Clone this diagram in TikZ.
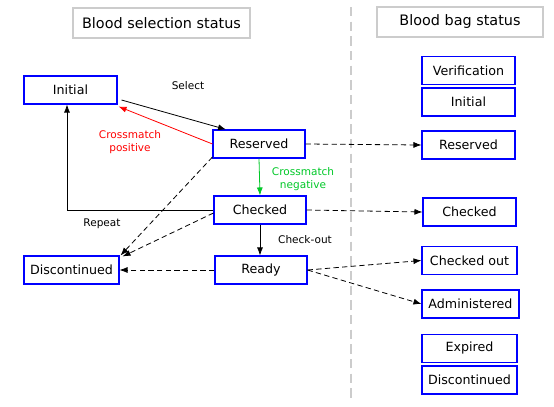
\documentclass[tikz,border=0pt]{standalone}
\usepackage{fontspec}
\setmainfont{DejaVu Sans}
\usetikzlibrary{arrows.meta}
\definecolor{cmgreen}{RGB}{0,200,40}
\begin{document}
\begin{tikzpicture}[x=0.75pt,y=-0.75pt,
  state/.style={draw=blue,line width=0.8pt,minimum height=28*0.75pt,inner sep=0pt,font=\fontsize{9.5}{11}\selectfont},
  title/.style={draw=black!20,line width=0.8pt,minimum height=30*0.75pt,inner sep=0pt,font=\fontsize{10.8}{13}\selectfont},
  lbl/.style={font=\fontsize{7.9}{9.5}\selectfont,align=center},
  arr/.style={-{Latex[length=6pt,width=4.5pt]},line width=0.6pt},
  dsh/.style={arr,dash pattern=on 4pt off 2.5pt}]
\useasboundingbox[fill=white] (0,0) rectangle (554,407);
% titles
\node[title,minimum width=177*0.75pt] (t1) at (161.5,23) {Blood selection status};
\node[title,minimum width=166*0.75pt] (t2) at (460,22) {Blood bag status};
\coordinate (vt) at (351,7);
\coordinate (vb) at (351,400);
\draw[black!20,line width=0.8pt,dash pattern=on 7pt off 4pt] (vt) -- (vb);
% left states
\node[state,minimum width=93*0.75pt] (ini) at (70.5,90) {Initial};
\node[state,minimum width=92*0.75pt] (res) at (259,144) {Reserved};
\node[state,minimum width=92*0.75pt] (chk) at (260,210) {Checked};
\node[state,minimum width=95*0.75pt] (dis) at (71.5,270) {Discontinued};
\node[state,minimum width=92*0.75pt] (rdy) at (261,270) {Ready};
% right states
\node[state,minimum width=93*0.75pt] (bver) at (468.5,70.5) {Verification};
\node[state,minimum width=93*0.75pt] (bini) at (468.5,102) {Initial};
\node[state,minimum width=93*0.75pt] (bres) at (468.5,145) {Reserved};
\node[state,minimum width=93*0.75pt] (bchk) at (469.5,212) {Checked};
\node[state,minimum width=95*0.75pt] (bout) at (469.5,260.5) {Checked out};
\node[state,minimum width=97*0.75pt] (badm) at (470.5,304) {Administered};
\node[state,minimum width=95*0.75pt] (bexp) at (469.5,348.5) {Expired};
\node[state,minimum width=95*0.75pt] (bdis) at (469.5,380) {Discontinued};
% connectors
\draw[arr] ([xshift=4*0.75pt,yshift=-10*0.75pt]ini.east) -- ([xshift=-33*0.75pt]res.north);
\node[lbl] (lsel) at (188,86) {Select};
\draw[arr,red] (res.west) -- ([xshift=1*0.75pt,yshift=-2*0.75pt]ini.south east);
\node[lbl,red] (lpos) at (130,142) {Crossmatch\\positive};
\draw[arr,cmgreen] (res.south) -- (chk.south |- chk.north);
\node[lbl,cmgreen] (lneg) at (303,179) {Crossmatch\\negative};
\draw[arr] (chk.west) -| ([xshift=-3.5*0.75pt]ini.south);
\node[lbl] (lrep) at (102,224) {Repeat};
\draw[dsh] ([yshift=-13*0.75pt]res.west) -- ([xshift=1*0.75pt]dis.north east);
\draw[dsh] ([yshift=-3*0.75pt]chk.west) -- ([xshift=3*0.75pt,yshift=-1*0.75pt]dis.north east);
\draw[arr] (chk.south) -- (chk.south |- rdy.north);
\node[lbl] (lchk) at (305,240) {Check-out};
\draw[dsh] (rdy.west) -- (dis.east);
\draw[dsh] (res.east) -- (bres.west);
\draw[dsh] (chk.east) -- (bchk.west);
\draw[dsh] (rdy.east) -- (bout.west);
\draw[dsh] (rdy.east) -- (badm.west);
\end{tikzpicture}
\end{document}
